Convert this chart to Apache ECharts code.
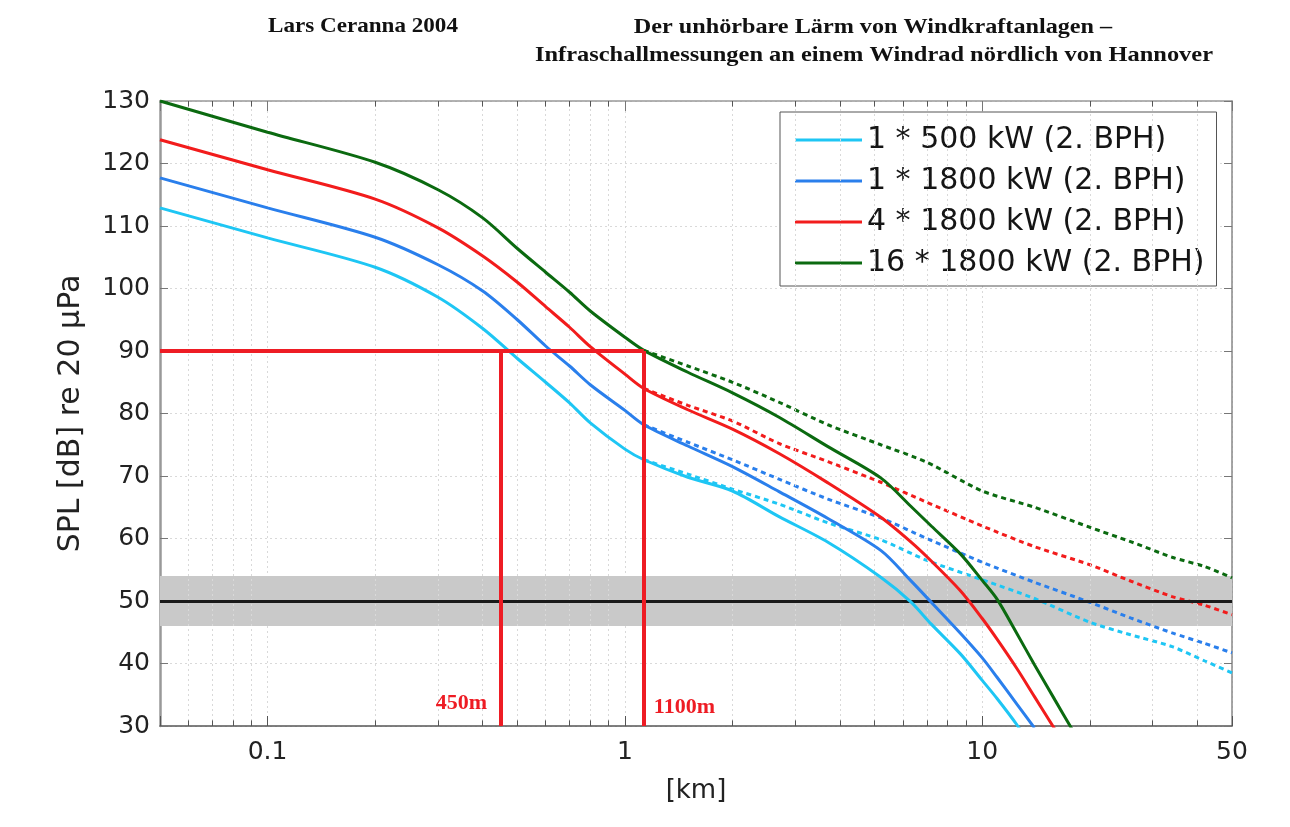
<!DOCTYPE html>
<html><head><meta charset="utf-8">
<script src="https://cdn.jsdelivr.net/npm/echarts@6/dist/echarts.min.js"></script>
<style>html,body{margin:0;padding:0;background:#fff}#c{width:1290px;height:827px}</style>
</head><body><div id="c"></div>
<script>
// ---- data (distance in km, SPL in dB) ----
const distKm   = [0.05,0.1,0.2,0.3,0.4,0.5,0.6,0.7,0.8,1.0,1.13,1.5,2,2.7,3.7,5.2,6.3,7.2,8.7,10,11,12.5,14,16,18];
const spl500   = [112.9,108.1,103.4,98.6,93.6,88.8,85.0,81.7,78.5,74.3,72.6,69.8,67.6,63.5,59.4,53.8,49.9,46.3,41.5,37.3,34.4,30.2,26.0];
const spl1800  = [117.7,112.9,108.2,103.8,99.6,95.0,90.8,87.6,84.6,80.5,78.2,74.8,71.5,67.5,63.2,58.1,53.3,49.8,44.8,40.9,37.8,33.5,29.7];
const spl4x    = [123.8,119.0,114.3,109.7,105.2,101.0,97.1,93.8,90.7,86.3,84.0,80.6,77.5,73.6,68.9,63.4,59.5,56.4,51.6,47.2,43.9,39.2,34.7,29.4];
const spl16x   = [130.0,125.0,120.2,115.8,111.3,106.4,102.6,99.4,96.4,92.2,90.1,86.6,83.3,79.4,74.7,69.7,65.2,62.0,57.5,53.3,50.3,44.8,39.8,34.1,29.1];

const distDotKm  = [1.13,1.5,2,2.7,3.7,5.2,7,10,14,20,26,34,42,50];
const dot500     = [72.6,70.3,67.9,65.5,62.5,59.8,56.5,53.4,50.4,46.6,44.6,42.7,40.4,38.5];
const dot1800    = [78.2,75.4,72.6,69.5,66.3,63.3,60.0,56.2,53.0,49.8,47.3,44.9,43.2,41.7];
const dot4x      = [84.0,81.3,78.8,75.2,72.3,69.0,65.8,62.0,58.7,55.8,53.2,50.7,49.3,47.8];
const dot16x     = [90.1,87.6,85.0,81.8,78.2,75.0,72.2,67.6,65.0,61.8,59.5,57.0,55.5,53.7];

const seriesNames = ['1 * 500 kW (2. BPH)','1 * 1800 kW (2. BPH)','4 * 1800 kW (2. BPH)','16 * 1800 kW (2. BPH)'];
const seriesColors = ['#1ec6f4','#2a7fec','#f21c1c','#0b6a10'];

const minorKm = [0.06,0.07,0.08,0.09,0.2,0.3,0.4,0.5,0.6,0.7,0.8,0.9,2,3,4,5,6,7,8,9,20,30,40];
const yLimits = [30,130];
const bandRange = [46,54];
const refLevel = 50;
const markLevel = 90;
const markDistKm = [0.45,1.13];
const markLabels = ['450m','1100m'];

function zip(xs, ys){ const out=[]; for(let i=0;i<ys.length;i++){ if(ys[i]!=null) out.push([xs[i],ys[i]]);} return out; }

const solidData = [spl500, spl1800, spl4x, spl16x];
const dotData = [dot500, dot1800, dot4x, dot16x];

const series = [];

const minorTickSegs = [];
minorKm.forEach(v => {
  minorTickSegs.push([{coord:[v,yLimits[0]]},{coord:[v,yLimits[0]+0.9]}]);
  minorTickSegs.push([{coord:[v,yLimits[1]]},{coord:[v,yLimits[1]-0.9]}]);
});
series.push({
  type:'line', name:'_grid', data:[[1,refLevel]], symbol:'none', lineStyle:{opacity:0}, silent:true, z:1,
  markLine:{ silent:true, symbol:['none','none'], label:{show:false},
    lineStyle:{color:'#d9d9d9', width:1, type:[2,3]},
    data: minorKm.map(v=>({xAxis:v})) }
});
series.push({
  type:'line', name:'_band', data:[[1,refLevel]], symbol:'none', lineStyle:{opacity:0}, silent:true, z:2,
  markArea:{ silent:true, itemStyle:{color:'#c9c9c9'}, data:[[{yAxis:bandRange[0]},{yAxis:bandRange[1]}]] },
  markLine:{ silent:true, symbol:['none','none'], label:{show:false},
    lineStyle:{color:'#1a1a1a', width:3, type:'solid'}, data:[{yAxis:refLevel}] }
});
series.push({
  type:'line', name:'_ticks', data:[[1,refLevel]], symbol:'none', lineStyle:{opacity:0}, silent:true, z:3,
  markLine:{ silent:true, symbol:['none','none'], label:{show:false},
    lineStyle:{color:'#555', width:1, type:'solid'}, data: minorTickSegs }
});

dotData.forEach((arr,i)=>{
  series.push({ type:'line', name:'_dot'+i, data: zip(distDotKm, arr), symbol:'none', smooth:0.25,
    lineStyle:{color:seriesColors[i], width:3, type:[5,4]}, z:4, silent:true });
});
solidData.forEach((arr,i)=>{
  series.push({ type:'line', name:seriesNames[i], data: zip(distKm, arr), symbol:'none', smooth:0.3,
    lineStyle:{color:seriesColors[i], width:3}, itemStyle:{color:seriesColors[i]}, z:5, silent:true });
});
series.push({
  type:'line', name:'_red', data:[[1,refLevel]], symbol:'none', lineStyle:{opacity:0}, silent:true, z:10,
  markLine:{ silent:true, symbol:['none','none'], label:{show:false}, z:10,
    lineStyle:{color:'#ee1c24', width:4, type:'solid'},
    data:[
      [{coord:[0.05,markLevel]},{coord:[markDistKm[1],markLevel]}],
      [{coord:[markDistKm[0],markLevel]},{coord:[markDistKm[0],yLimits[0]]}],
      [{coord:[markDistKm[1],markLevel]},{coord:[markDistKm[1],yLimits[0]]}]
    ] },
  markPoint:{ silent:true, symbol:'circle', symbolSize:0,
    label:{show:true, color:'#ee1c24', fontFamily:'Liberation Serif', fontWeight:'bold', fontSize:22},
    data:[
      {coord:[markDistKm[0],33.6], label:{formatter:markLabels[0], position:'left', distance:14}},
      {coord:[markDistKm[1],33.0], label:{formatter:markLabels[1], position:'right', distance:10}}
    ] }
});

const chart = echarts.init(document.getElementById('c'), null, {renderer:'canvas'});
const axisFont = {fontFamily:'DejaVu Sans', fontSize:25, color:'#222'};
chart.setOption({
  animation:false,
  backgroundColor:'#fff',
  grid:{left:160, right:58, top:101, bottom:101, containLabel:false},
  legend:{
    data: seriesNames, orient:'vertical', left:780, top:112, icon:'rect',
    backgroundColor:'#fff', borderColor:'#555', borderWidth:1,
    padding:[13,12,8,15], itemWidth:67, itemHeight:3, itemGap:11,
    textStyle:{fontFamily:'DejaVu Sans', fontSize:30, color:'#151515', lineHeight:29},
    selectedMode:false
  },
  xAxis:[{
    type:'log', logBase:10, min:0.05, max:50, position:'bottom',
    name:'[km]', nameLocation:'middle', nameGap:52,
    nameTextStyle:Object.assign({}, axisFont, {fontSize:26}),
    axisLine:{show:true, lineStyle:{color:'#555', width:1.5}},
    axisTick:{show:true, inside:true, length:10, lineStyle:{color:'#555'}},
    axisLabel:Object.assign({margin:14, formatter:function(v){ if(v<0.09) return ''; return v>=1 ? String(Math.round(v)) : String(+v.toPrecision(2)); }}, axisFont),
    splitLine:{show:true, lineStyle:{color:'#d9d9d9', type:[2,3]}},
    minorTick:{show:false}
  },{
    type:'log', logBase:10, min:0.05, max:50, position:'top',
    axisLine:{show:true, lineStyle:{color:'#999', width:1.5}},
    axisTick:{show:true, inside:true, length:10, lineStyle:{color:'#777'}},
    axisLabel:{show:false}, splitLine:{show:false}
  }],
  yAxis:[{
    type:'value', min:yLimits[0], max:yLimits[1], interval:10, position:'left',
    name:'SPL [dB] re 20 μPa', nameLocation:'middle', nameGap:74, nameRotate:90,
    nameTextStyle:Object.assign({}, axisFont, {fontSize:30}),
    axisLine:{show:true, lineStyle:{color:'#999', width:2.5}},
    axisTick:{show:true, inside:true, length:8, lineStyle:{color:'#777'}},
    axisLabel:Object.assign({margin:10}, axisFont),
    splitLine:{show:true, lineStyle:{color:'#d9d9d9', type:[2,3]}}
  },{
    type:'value', min:yLimits[0], max:yLimits[1], interval:10, position:'right',
    axisLine:{show:true, lineStyle:{color:'#888', width:1.5}},
    axisTick:{show:true, inside:true, length:8, lineStyle:{color:'#777'}},
    axisLabel:{show:false}, splitLine:{show:false}
  }],
  graphic:[
    {type:'text', x:363, y:26, scaleX:1.05, style:{text:'Lars Ceranna 2004', font:'bold 22px "Liberation Serif"', fill:'#111', textAlign:'center', textVerticalAlign:'middle'}},
    {type:'text', x:873, y:27, scaleX:1.1, style:{text:'Der unhörbare Lärm von Windkraftanlagen –', font:'bold 22px "Liberation Serif"', fill:'#111', textAlign:'center', textVerticalAlign:'middle'}},
    {type:'text', x:874, y:55, scaleX:1.11, style:{text:'Infraschallmessungen an einem Windrad nördlich von Hannover', font:'bold 22px "Liberation Serif"', fill:'#111', textAlign:'center', textVerticalAlign:'middle'}}
  ],
  series: series
});
</script>
</body></html>
